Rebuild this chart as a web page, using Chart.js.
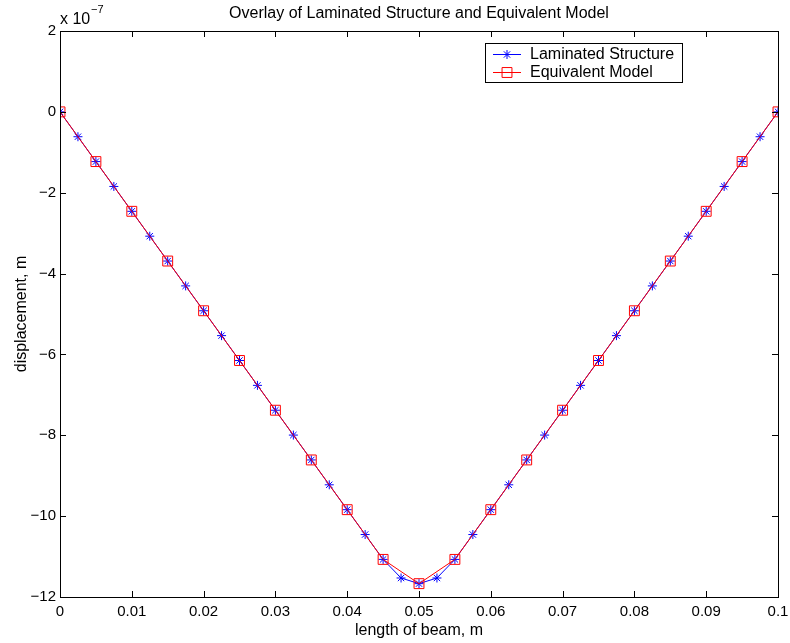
<!DOCTYPE html>
<html>
<head>
<meta charset="utf-8">
<title>Overlay of Laminated Structure and Equivalent Model</title>
<script src="https://cdn.jsdelivr.net/npm/chart.js@4/dist/chart.umd.min.js"></script>
<style>
    html, body { margin: 0; padding: 0; background: #fff; }
    #plot { display: block; }
</style>
</head>
<body>
<canvas id="plot" width="790" height="643"></canvas>
<script>
// Beam length positions (m)
const xLaminated = [
    0, 0.0025, 0.005, 0.0075, 0.01, 0.0125, 0.015, 0.0175, 0.02, 0.0225,
    0.025, 0.0275, 0.03, 0.0325, 0.035, 0.0375, 0.04, 0.0425, 0.045, 0.0475,
    0.05, 0.0525, 0.055, 0.0575, 0.06, 0.0625, 0.065, 0.0675, 0.07, 0.0725,
    0.075, 0.0775, 0.08, 0.0825, 0.085, 0.0875, 0.09, 0.0925, 0.095, 0.0975, 0.1
];
const xEquivalent = [
    0, 0.005, 0.01, 0.015, 0.02, 0.025, 0.03, 0.035, 0.04, 0.045, 0.05,
    0.055, 0.06, 0.065, 0.07, 0.075, 0.08, 0.085, 0.09, 0.095, 0.1
];

// Displacement, in units of 1e-7 m
const yLaminated = [
    0, -0.615, -1.23, -1.845, -2.46, -3.075, -3.69, -4.305, -4.92, -5.535,
    -6.15, -6.765, -7.38, -7.995, -8.61, -9.225, -9.84, -10.455, -11.07, -11.53,
    -11.67, -11.53, -11.07, -10.455, -9.84, -9.225, -8.61, -7.995, -7.38, -6.765,
    -6.15, -5.535, -4.92, -4.305, -3.69, -3.075, -2.46, -1.845, -1.23, -0.615, 0
];
const yEquivalent = [
    0, -1.23, -2.46, -3.69, -4.92, -6.15, -7.38, -8.61, -9.84, -11.07, -11.67,
    -11.07, -9.84, -8.61, -7.38, -6.15, -4.92, -3.69, -2.46, -1.23, 0
];

const seriesNames = ['Laminated Structure', 'Equivalent Model'];

const xTicks = [0, 0.01, 0.02, 0.03, 0.04, 0.05, 0.06, 0.07, 0.08, 0.09, 0.1];
const xTickLabels = ['0', '0.01', '0.02', '0.03', '0.04', '0.05', '0.06', '0.07', '0.08', '0.09', '0.1'];
const yTicks = [2, 0, -2, -4, -6, -8, -10, -12];

const FONT = 'Liberation Sans, Arial, Helvetica, sans-serif';

function toPoints(xs, ys) {
    return xs.map((x, i) => ({ x: x, y: ys[i] }));
}

// Box around the axes, inward tick marks, title, exponent and legend
const matlabFrame = {
    id: 'matlabFrame',
    afterDraw(chart) {
        const ctx = chart.ctx;
        const area = chart.chartArea;
        const xs = chart.scales.x;
        const ys = chart.scales.y;
        const tickLen = 6;

        ctx.save();
        ctx.strokeStyle = '#000';
        ctx.lineWidth = 1;
        ctx.beginPath();
        xTicks.forEach(v => {
            const px = Math.round(xs.getPixelForValue(v)) + 0.5;
            ctx.moveTo(px, area.bottom);
            ctx.lineTo(px, area.bottom - tickLen);
            ctx.moveTo(px, area.top);
            ctx.lineTo(px, area.top + tickLen);
        });
        yTicks.forEach(v => {
            const py = Math.round(ys.getPixelForValue(v)) + 0.5;
            ctx.moveTo(area.left, py);
            ctx.lineTo(area.left + tickLen, py);
            ctx.moveTo(area.right, py);
            ctx.lineTo(area.right - tickLen, py);
        });
        ctx.stroke();

        ctx.strokeRect(Math.round(area.left) + 0.5, Math.round(area.top) + 0.5,
            Math.round(area.right - area.left), Math.round(area.bottom - area.top));

        // Title
        ctx.fillStyle = '#000';
        ctx.font = '16px ' + FONT;
        ctx.textAlign = 'center';
        ctx.textBaseline = 'alphabetic';
        ctx.fillText('Overlay of Laminated Structure and Equivalent Model', (area.left + area.right) / 2, 18);

        // Axis exponent
        ctx.textAlign = 'left';
        ctx.fillText('x 10', area.left, 24);
        ctx.font = '11px ' + FONT;
        ctx.fillText('\u22127', area.left + 31, 13);

        // Legend
        const lx = 485, ly = 43, lw = 197, lh = 39;
        ctx.fillStyle = '#fff';
        ctx.fillRect(lx, ly, lw, lh);
        ctx.strokeStyle = '#000';
        ctx.strokeRect(lx + 0.5, ly + 0.5, lw, lh);
        ctx.font = '16px ' + FONT;
        ctx.textBaseline = 'middle';
        chart.data.datasets.forEach((ds, i) => {
            const rowY = ly + 11 + i * 18;
            ctx.strokeStyle = ds.borderColor;
            ctx.lineWidth = 1;
            ctx.beginPath();
            ctx.moveTo(lx + 8, rowY + 0.5);
            ctx.lineTo(lx + 36, rowY + 0.5);
            ctx.stroke();
            ctx.fillStyle = 'rgba(0,0,0,0)';
            Chart.helpers.drawPoint(ctx, {
                pointStyle: ds.pointStyle,
                radius: ds.pointRadius,
                borderWidth: 1
            }, lx + 22, rowY + 0.5);
            ctx.fillStyle = '#000';
            ctx.fillText(ds.label, lx + 45, rowY + 1);
        });
        ctx.restore();
    }
};

new Chart(document.getElementById('plot'), {
    type: 'line',
    data: {
        datasets: [
            {
                label: seriesNames[0],
                data: toPoints(xLaminated, yLaminated),
                borderColor: '#0000ff',
                backgroundColor: 'rgba(0,0,0,0)',
                borderWidth: 1,
                pointStyle: 'star',
                pointRadius: 4.5,
                pointBorderWidth: 1,
                pointBorderColor: '#0000ff',
                tension: 0,
                order: 1
            },
            {
                label: seriesNames[1],
                data: toPoints(xEquivalent, yEquivalent),
                borderColor: '#ff0000',
                backgroundColor: 'rgba(0,0,0,0)',
                borderWidth: 1,
                pointStyle: 'rect',
                pointRadius: 7,
                pointBorderWidth: 1,
                pointBorderColor: '#ff0000',
                tension: 0,
                order: 0
            }
        ]
    },
    options: {
        responsive: false,
        animation: false,
        devicePixelRatio: 1,
        layout: { padding: { top: 31, right: 12, left: 0, bottom: 0 } },
        plugins: {
            legend: { display: false },
            tooltip: { enabled: false },
            title: { display: false }
        },
        scales: {
            x: {
                type: 'linear',
                min: 0,
                max: 0.1,
                afterBuildTicks: s => { s.ticks = xTicks.map(v => ({ value: v })); },
                afterFit: s => { s.height = 46; s.paddingLeft = 0; s.paddingRight = 0; },
                grid: { display: false, drawTicks: false },
                border: { display: true, color: '#000', width: 1 },
                ticks: {
                    color: '#000',
                    font: { family: FONT, size: 15 },
                    padding: 6,
                    maxRotation: 0,
                    autoSkip: false,
                    callback: (v) => xTickLabels[xTicks.indexOf(v)] ?? ''
                },
                title: {
                    display: true,
                    text: 'length of beam, m',
                    color: '#000',
                    font: { family: FONT, size: 16 },
                    padding: { top: 0, bottom: 3 }
                }
            },
            y: {
                type: 'linear',
                min: -12,
                max: 2,
                afterBuildTicks: s => { s.ticks = yTicks.map(v => ({ value: v })); },
                afterFit: s => { s.width = 60; s.paddingTop = 0; s.paddingBottom = 0; },
                grid: { display: false, drawTicks: false },
                border: { display: true, color: '#000', width: 1 },
                ticks: {
                    color: '#000',
                    font: { family: FONT, size: 15 },
                    padding: 4,
                    autoSkip: false,
                    callback: (v) => v < 0 ? '\u2212' + Math.abs(v) : String(v)
                },
                title: {
                    display: true,
                    text: 'displacement, m',
                    color: '#000',
                    font: { family: FONT, size: 16 },
                    padding: { top: 12, bottom: 0 }
                }
            }
        }
    },
    plugins: [matlabFrame]
});
</script>
</body>
</html>
